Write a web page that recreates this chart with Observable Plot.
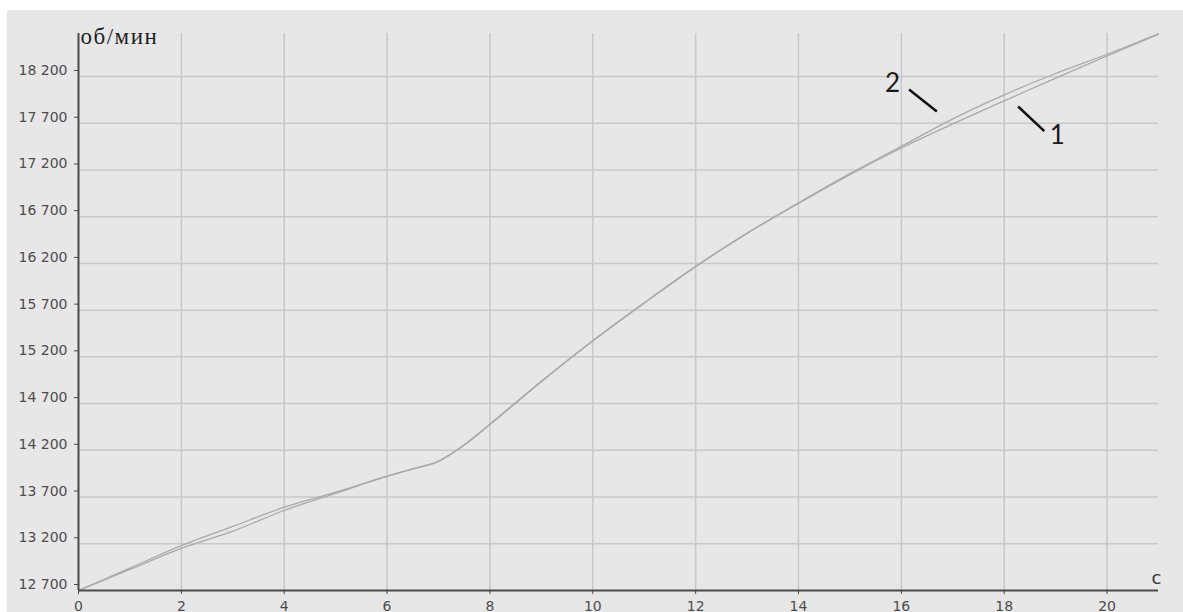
<!DOCTYPE html>
<html>
<head>
<meta charset="utf-8">
<script src="https://cdn.jsdelivr.net/npm/d3@7"></script>
<script src="https://cdn.jsdelivr.net/npm/@observablehq/plot@0.6"></script>
<style>
  body { margin: 0; background: #ffffff; }
  #chart { padding: 10px 0 0 7px; }
</style>
</head>
<body>
<div id="chart"></div>
<script>
// Time, seconds
const time = [0, 1, 2, 3, 4, 5, 6, 6.5, 7, 7.25, 7.5, 8, 9, 10, 11, 12, 13, 14, 15, 16, 17, 18, 19, 20, 21];
// Shaft speed, rpm — run 1
const rpm1 = [12700, 12925, 13150, 13335, 13556, 13740, 13920, 14000, 14080, 14160, 14255, 14475, 14935, 15370, 15775, 16165, 16520, 16842, 17150, 17435, 17693, 17940, 18182, 18420, 18653];
// Shaft speed, rpm — run 2
const rpm2 = [12700, 12940, 13180, 13385, 13591, 13752, 13925, 14004, 14085, 14165, 14260, 14480, 14940, 15372, 15778, 16168, 16524, 16847, 17160, 17452, 17747, 18004, 18232, 18438, 18658];

const xTicks = [0, 2, 4, 6, 8, 10, 12, 14, 16, 18, 20];
const yTicks = [12700, 13200, 13700, 14200, 14700, 15200, 15700, 16200, 16700, 17200, 17700, 18200];
const xDomain = [0, 21];
const yDomain = [12700, 18660];

const unitY = "об/мин";
const unitX = "с";

// Curve numbers with their leader lines
const calloutNames = ["1", "2"];
const calloutText = [{t: 19.03, v: 17563}, {t: 15.83, v: 18125}];
const calloutLead = [{t1: 18.27, v1: 17879, t2: 18.78, v2: 17615}, {t1: 16.15, v1: 18061, t2: 16.69, v2: 17826}];

const rows = [
  ...time.map((t, i) => ({t, rpm: rpm1[i], run: "1"})),
  ...time.map((t, i) => ({t, rpm: rpm2[i], run: "2"}))
];
const labels = calloutNames.map((name, i) => ({name, ...calloutText[i]}));
const leads = calloutNames.map((name, i) => ({name, ...calloutLead[i]}));

// Thousands separated by a space: 18 200
const spaced = d3.formatLocale({decimal: ".", thousands: "\u00a0", grouping: [3], currency: ["", ""]}).format(",");
const sans = "DejaVu Sans, Verdana, sans-serif";
const grid = "#c8c8c8";
const axisColor = "#4a4a4a";

const chart = Plot.plot({
  width: 1176,
  height: 602,
  marginLeft: 71,
  marginRight: 25,
  marginTop: 23,
  marginBottom: 22,
  style: {background: "#e7e7e7", color: axisColor, fontFamily: sans, overflow: "visible"},
  x: {domain: xDomain},
  y: {domain: yDomain, tickFormat: spaced},
  marks: [
    Plot.ruleY(yTicks.slice(1), {x1: xDomain[0], x2: xDomain[1], stroke: grid, strokeWidth: 1.5}),
    Plot.ruleX(xTicks.slice(1), {y1: yDomain[0], y2: yDomain[1], stroke: grid, strokeWidth: 1.5}),
    Plot.line(rows, {x: "t", y: "rpm", z: "run", curve: "monotone-x", stroke: "#a9a9a9", strokeWidth: 1.3}),
    Plot.ruleY([yDomain[0]], {x1: xDomain[0], x2: xDomain[1], stroke: axisColor, strokeWidth: 2}),
    Plot.ruleX([xDomain[0]], {y1: yDomain[0], y2: yDomain[1], stroke: axisColor, strokeWidth: 2}),
    Plot.axisX(xTicks, {tickSize: 4, tickPadding: 7, fontSize: 14, fill: "#4d4d4d", label: null}),
    Plot.axisY(yTicks, {tickSize: 4, tickPadding: 7, dy: -6, fontSize: 14, fill: "#4d4d4d", label: null, tickFormat: spaced, text: (d) => spaced(d)}),
    Plot.text([unitY], {x: xDomain[0], y: yDomain[1], dx: 2, dy: 10, textAnchor: "start", lineAnchor: "bottom", fontFamily: "Liberation Serif, Times New Roman, serif", fontSize: 23, fill: "#1e1e1e"}),
    Plot.text([unitX], {x: xDomain[1], y: yDomain[0], dx: -2, dy: -7, textAnchor: "middle", lineAnchor: "bottom", fontSize: 18, fill: "#333"}),
    Plot.link(leads, {x1: "t1", y1: "v1", x2: "t2", y2: "v2", stroke: "#111", strokeWidth: 2.5}),
    Plot.text(labels, {x: "t", y: "v", text: "name", fontFamily: "Lato, Carlito, sans-serif", fontSize: 26, fill: "#1a1a1a", lineAnchor: "middle"})
  ]
});

// Spread the letters of the unit label a little
d3.select(chart).selectAll("text")
  .filter(function () { return this.textContent === unitY; })
  .attr("letter-spacing", "1.5px");

document.getElementById("chart").append(chart);
</script>
</body>
</html>
